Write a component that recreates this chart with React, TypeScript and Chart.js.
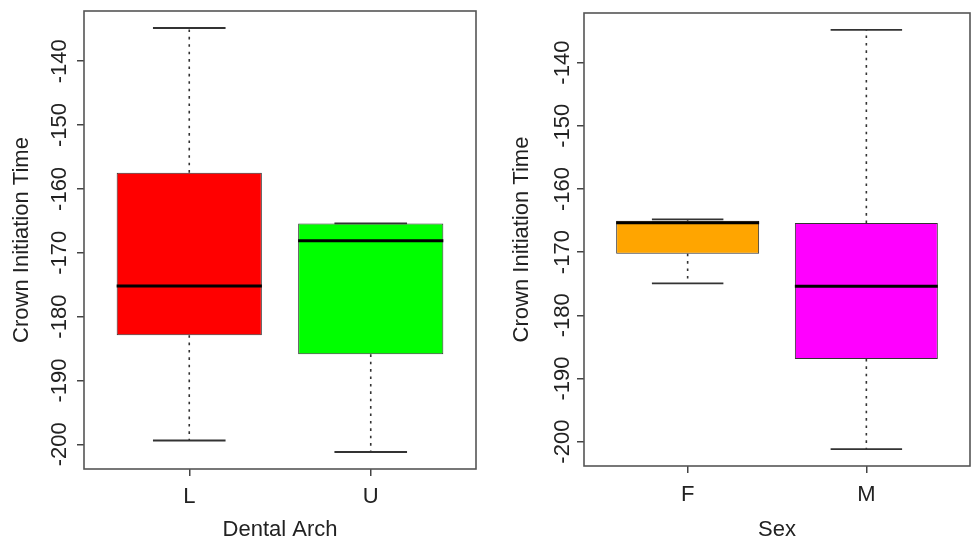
import React, { useEffect, useRef } from 'react';
import { Chart, registerables } from 'chart.js';

Chart.register(...registerables);

// ---- data ----
const xPositions = [1, 2];
const yTickValues = [-200, -190, -180, -170, -160, -150, -140];
const yMin = -203.86;
const yMax = -132.14;
const xMin = 0.42;
const xMax = 2.58;

const archCategories = ['L', 'U'];
const archLower = [-199.4, -201.2];
const archQ1 = [-182.9, -185.9];
const archMedian = [-175.2, -168.1];
const archQ3 = [-157.45, -165.4];
const archUpper = [-134.8, -165.4];
const archColors = ['#FF0000', '#00FF00'];

const sexCategories = ['F', 'M'];
const sexLower = [-174.95, -201.2];
const sexQ1 = [-170.25, -186.9];
const sexMedian = [-165.35, -175.4];
const sexQ3 = [-165.05, -165.4];
const sexUpper = [-164.8, -134.8];
const sexColors = ['#FFA500', '#FF00FF'];

const FONT_FAMILY = '"Liberation Sans", Arial, Helvetica, sans-serif';
const TEXT_COLOR = '#222';

type PanelProps = {
  categories: string[];
  lower: number[];
  q1: number[];
  median: number[];
  q3: number[];
  upper: number[];
  colors: string[];
  xTitle: string;
  layoutPadding: { top: number; right: number; bottom: number; left: number };
  yWidth: number;
  xHeight: number;
  yTickPad: number;
  yTitlePad: number;
  xTickPad: number;
};

function BoxPanel(props: PanelProps) {
  const ref = useRef<HTMLCanvasElement>(null);
  useEffect(() => {
    const canvas = ref.current!;
    const data = xPositions.map((p, i) => ({ x: p, y: [props.q1[i], props.q3[i]] }));
    const font = { family: FONT_FAMILY, size: 22, lineHeight: 1 };

    const whiskerPlugin = {
      id: 'whiskers',
      afterDatasetsDraw(chart: any) {
        const meta = chart.getDatasetMeta(0);
        const ys = chart.scales.y;
        const ctx = chart.ctx as CanvasRenderingContext2D;
        ctx.save();
        meta.data.forEach((el: any, i: number) => {
          const { x, width } = el.getProps(['x', 'width'], true);
          const pLo = ys.getPixelForValue(props.lower[i]);
          const pQ1 = ys.getPixelForValue(props.q1[i]);
          const pMed = ys.getPixelForValue(props.median[i]);
          const pQ3 = ys.getPixelForValue(props.q3[i]);
          const pUp = ys.getPixelForValue(props.upper[i]);
          // dashed whiskers
          ctx.strokeStyle = '#333';
          ctx.lineWidth = 1.6;
          ctx.setLineDash([2.6, 4.8]);
          ctx.beginPath();
          if (Math.abs(pUp - pQ3) > 1) {
            ctx.moveTo(x, pQ3);
            ctx.lineTo(x, pUp);
          }
          if (Math.abs(pLo - pQ1) > 1) {
            ctx.moveTo(x, pQ1);
            ctx.lineTo(x, pLo);
          }
          ctx.stroke();
          ctx.setLineDash([]);
          // staples
          const half = width / 4;
          ctx.strokeStyle = '#333';
          ctx.lineWidth = 1.8;
          ctx.beginPath();
          ctx.moveTo(x - half, pUp);
          ctx.lineTo(x + half, pUp);
          ctx.moveTo(x - half, pLo);
          ctx.lineTo(x + half, pLo);
          ctx.stroke();
          // median
          ctx.strokeStyle = '#000';
          ctx.lineWidth = 3;
          ctx.beginPath();
          ctx.moveTo(x - width / 2, pMed);
          ctx.lineTo(x + width / 2, pMed);
          ctx.stroke();
        });
        ctx.restore();
      },
    };

    const framePlugin = {
      id: 'frame',
      afterDraw(chart: any) {
        const { left, top, width, height } = chart.chartArea;
        const ctx = chart.ctx as CanvasRenderingContext2D;
        ctx.save();
        ctx.strokeStyle = '#555';
        ctx.lineWidth = 1.6;
        ctx.strokeRect(left, top, width, height);
        ctx.restore();
      },
    };

    const chart = new Chart(canvas, {
      type: 'bar',
      data: {
        datasets: [
          {
            data: data as any,
            backgroundColor: props.colors,
            borderColor: '#333',
            borderWidth: 1,
            borderSkipped: false,
            barPercentage: 1,
            categoryPercentage: 0.8,
          },
        ],
      },
      options: {
        animation: false,
        responsive: false,
        layout: { padding: props.layoutPadding },
        plugins: { legend: { display: false }, tooltip: { enabled: false } },
        scales: {
          x: {
            type: 'linear',
            min: xMin,
            max: xMax,
            offset: false,
            afterBuildTicks: (s: any) => {
              s.ticks = xPositions.map((v) => ({ value: v }));
            },
            afterFit: (s: any) => {
              s.height = props.xHeight;
            },
            grid: {
              offset: false,
              drawOnChartArea: false,
              drawTicks: true,
              tickLength: 7,
              color: '#444',
              lineWidth: 1.5,
            },
            border: { display: false },
            ticks: {
              autoSkip: false,
              maxRotation: 0,
              minRotation: 0,
              padding: props.xTickPad,
              font,
              color: TEXT_COLOR,
              callback: (v: any) => props.categories[xPositions.indexOf(Number(v))] ?? '',
            },
            title: {
              display: true,
              text: props.xTitle,
              font,
              color: TEXT_COLOR,
              padding: { top: 0, bottom: 0 },
            },
          } as any,
          y: {
            type: 'linear',
            min: yMin,
            max: yMax,
            beginAtZero: false,
            afterBuildTicks: (s: any) => {
              s.ticks = yTickValues.map((v) => ({ value: v }));
            },
            afterFit: (s: any) => {
              s.width = props.yWidth;
            },
            grid: {
              drawOnChartArea: false,
              drawTicks: true,
              tickLength: 7,
              color: '#444',
              lineWidth: 1.5,
            },
            border: { display: false },
            ticks: {
              autoSkip: false,
              minRotation: 90,
              maxRotation: 90,
              crossAlign: 'center',
              padding: props.yTickPad,
              font,
              color: TEXT_COLOR,
              callback: (v: any) => String(v),
            },
            title: {
              display: true,
              text: 'Crown Initiation Time',
              font,
              color: TEXT_COLOR,
              padding: { top: props.yTitlePad, bottom: 0 },
            },
          } as any,
        },
      },
      plugins: [whiskerPlugin, framePlugin],
    });
    return () => chart.destroy();
  }, []);
  return <canvas ref={ref} width={487} height={541} style={{ display: 'block', width: 487, height: 541 }} />;
}

export default function App() {
  return (
    <div style={{ position: 'absolute', left: 0, top: 0, width: 974, height: 541, display: 'flex', background: '#fff' }}>
      <BoxPanel
        categories={archCategories}
        lower={archLower}
        q1={archQ1}
        median={archMedian}
        q3={archQ3}
        upper={archUpper}
        colors={archColors}
        xTitle="Dental Arch"
        layoutPadding={{ top: 11, right: 11, bottom: 0, left: 0 }}
        yWidth={84}
        xHeight={72}
        yTickPad={-5}
        yTitlePad={11}
        xTickPad={10}
      />
      <BoxPanel
        categories={sexCategories}
        lower={sexLower}
        q1={sexQ1}
        median={sexMedian}
        q3={sexQ3}
        upper={sexUpper}
        colors={sexColors}
        xTitle="Sex"
        layoutPadding={{ top: 13, right: 4, bottom: 0, left: 0 }}
        yWidth={97}
        xHeight={75}
        yTickPad={-8}
        yTitlePad={24}
        xTickPad={11}
      />
    </div>
  );
}
